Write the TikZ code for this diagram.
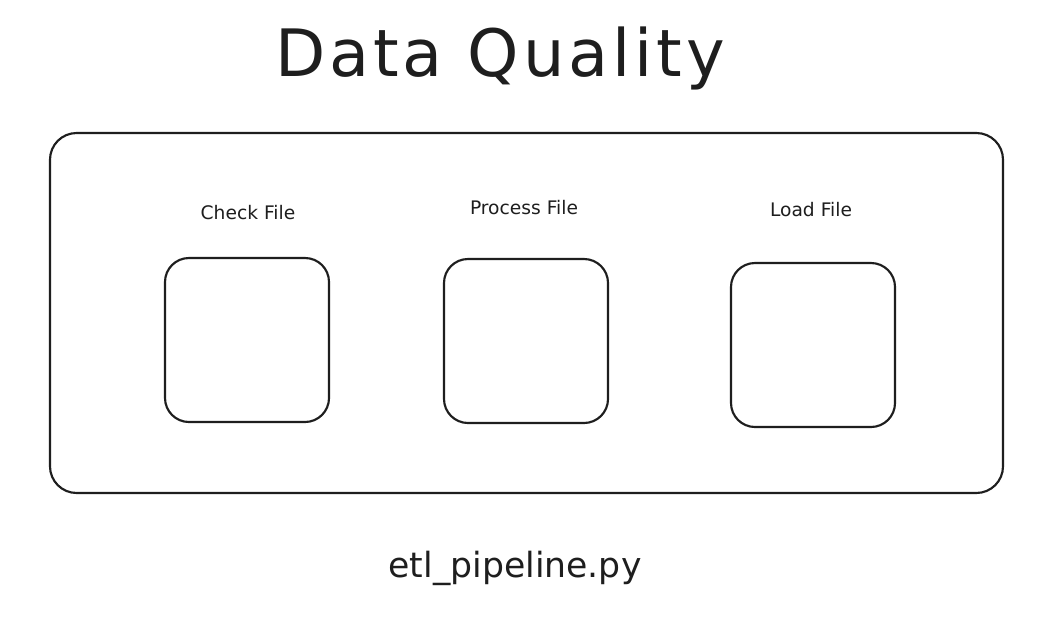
\documentclass[tikz,border=0pt]{standalone}
\usepackage{fontspec}
\setmainfont{DejaVu Sans}
\newfontfamily\titlefont[LetterSpace=6]{DejaVu Sans}
\begin{document}
\begin{tikzpicture}[x=0.75pt,y=-0.75pt,
  ink/.style={draw=inkc,line width=1.6pt},
  stage/.style={ink,rounded corners=18pt},
  lbl/.style={text=inkc,font=\fontsize{14}{16}\selectfont,inner sep=0pt},
]
\definecolor{inkc}{HTML}{1E1E1E}
\useasboundingbox[fill=white] (0,0) rectangle (1056,618);
\node[text=inkc,font=\titlefont\fontsize{49}{56}\selectfont,inner sep=0pt] (title) at (500,58) {Data Quality};
\draw[ink,rounded corners=20pt] (50,133) rectangle (1003,493);
\coordinate (outer) at (526,313);
\draw[stage] (165,258) rectangle (329,422);
\coordinate (b1) at (247,340);
\draw[stage] (444,259) rectangle (608,423);
\coordinate (b2) at (526,341);
\draw[stage] (731,263) rectangle (895,427);
\coordinate (b3) at (813,345);
\node[lbl] (l1) at (248,213) {Check File};
\node[lbl] (l2) at (524,208) {Process File};
\node[lbl] (l3) at (811,210) {Load File};
\node[text=inkc,font=\fontsize{26}{31}\selectfont,inner sep=0pt] (file) at (515,568) {etl\_pipeline.py};
\end{tikzpicture}
\end{document}
